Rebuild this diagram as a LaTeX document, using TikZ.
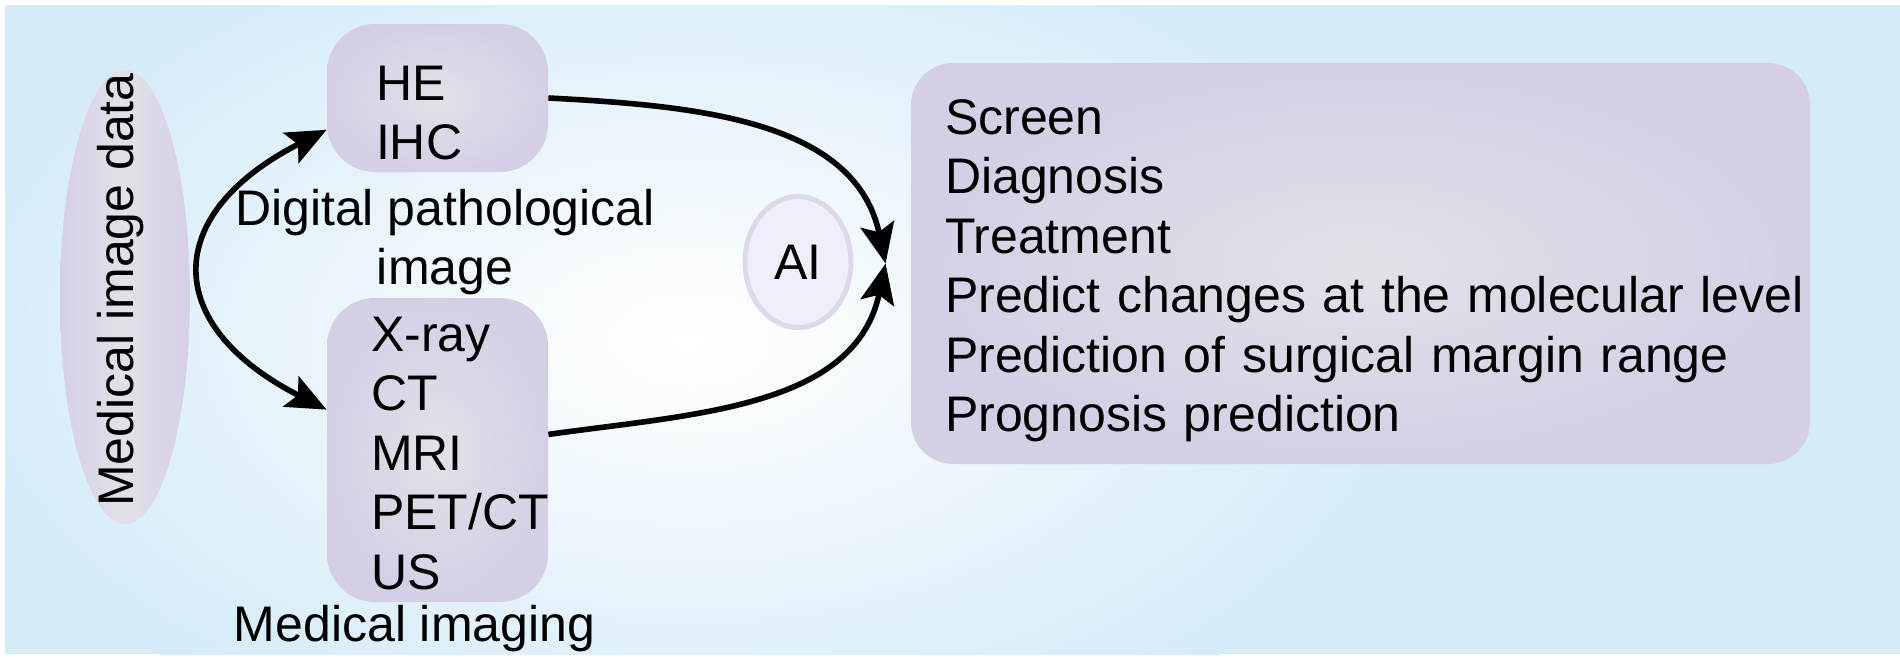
\documentclass[tikz,border=0pt]{standalone}
\usepackage{fontspec}
\setmainfont{Liberation Sans}
\usetikzlibrary{shapes.geometric, arrows.meta, positioning}
\hfuzz=100pt
\hbadness=10000

\definecolor{bgBlue}{RGB}{212,235,248}
\definecolor{boxLav}{RGB}{213,207,230}
\definecolor{boxMid}{RGB}{226,225,231}
\definecolor{aiFill}{RGB}{240,238,248}
\definecolor{aiRing}{RGB}{222,216,236}

\tikzstyle{box} = [rectangle, rounded corners=24pt, inner color=boxMid, outer color=boxLav, align=left, inner ysep=0pt, font=\fontsize{25}{29.75}\selectfont]
\tikzstyle{caption} = [align=center, inner sep=0pt, font=\fontsize{25}{29.75}\selectfont]
\tikzstyle{sidetext} = [rotate=90, inner sep=0pt, font=\fontsize{25}{29.75}\selectfont]
\tikzstyle{arrow} = [line width=2.8pt, ->, >={Stealth[length=20pt, width=17pt, inset=4pt]}]

\begin{document}
\begin{tikzpicture}[x=0.5pt, y=-0.5pt]

    % Background
    \useasboundingbox (0,0) rectangle (1900,659);
    \fill [bgBlue] (5,5) rectangle (1900,654);
    \begin{scope}
        \clip (5,5) rectangle (1900,654);
        \shade [inner color=white, outer color=bgBlue] (690,340) ellipse [x radius=760, y radius=440];
    \end{scope}

    % Nodes
    \node (dataEll) [ellipse, inner sep=0pt, minimum width=65pt, minimum height=227pt, left color=boxLav, right color=boxLav, middle color=boxMid] at (125,297) {};
    \node (dataText) [sidetext] at (121,290) {Medical image data};

    \node (heBox) [box, minimum width=110.5pt, minimum height=74pt, inner xsep=24.5pt, text width=61.5pt, text height=18pt, text depth=16pt] at (437.5,98) {HE\\IHC};
    \node (pathoLabel) [caption, node distance=72pt, below of=heBox, xshift=3.75pt, text height=47.75pt, text depth=5pt] {Digital pathological\\image};

    \node (imgBox) [box, minimum width=110.5pt, minimum height=152pt, inner xsep=22pt, text width=66.5pt, text height=18pt, text depth=117pt] at (437.5,450) {X-ray\\CT\\MRI\\PET/CT\\US};
    \node (imgLabel) [caption, node distance=89pt, below of=imgBox, xshift=-11.5pt, text height=18pt, text depth=5pt] {Medical imaging};

    \node (aiEll) [ellipse, draw=aiRing, line width=2.5pt, fill=aiFill, inner sep=0pt, minimum width=53pt, minimum height=65.5pt, font=\fontsize{25}{29.75}\selectfont] at (798,262) {AI};

    \node (resBox) [box, rounded corners=21pt, minimum width=449.5pt, minimum height=200.5pt, inner xsep=17pt, text width=415.5pt, text height=18pt, text depth=147.5pt] at (1360.5,263.5) {Screen\\Diagnosis\\Treatment\\\mbox{Predict changes at the molecular level}\\Prediction of surgical margin range\\Prognosis prediction};
    \coordinate [left=12.5pt of resBox.west] (aiMeet);

    % Arrows
    \draw [arrow, <->] (imgBox.160) to[out=153, in=207, looseness=1.7] (heBox.196);
    \draw [arrow] (heBox.east) to[out=-3, in=102] (aiMeet);
    \draw [arrow] (imgBox.8) to[out=8, in=-102] (aiMeet);

\end{tikzpicture}
\end{document}
